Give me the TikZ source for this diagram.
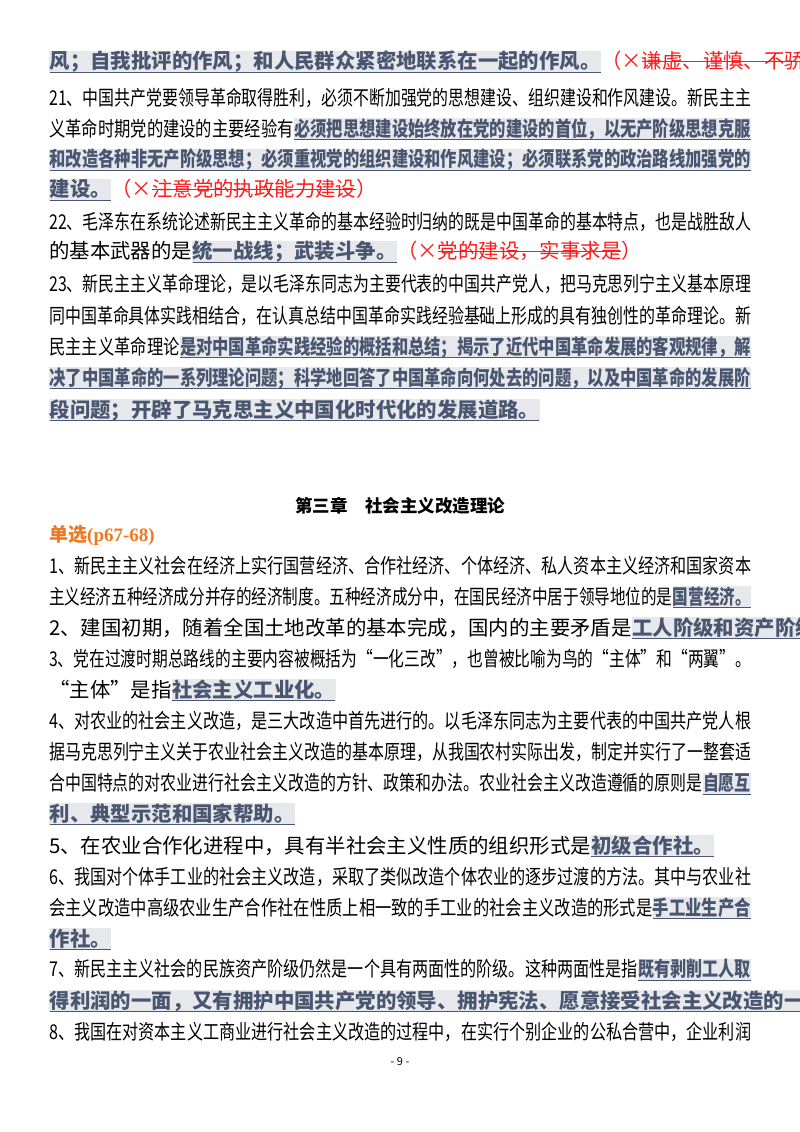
\documentclass[tikz,border=0pt]{standalone}
\usepackage{fontspec}
\usepackage{graphicx}
\setmainfont{Noto Sans CJK SC}
\newfontfamily\serifb{Liberation Serif}
\definecolor{ansfg}{HTML}{4A5570}
\definecolor{ansbg}{HTML}{E6E8EC}
\definecolor{wrong}{HTML}{FF1A1A}
\definecolor{orangeh}{HTML}{F07820}
\newsavebox\mybx
\newcommand\uln[1]{\sbox\mybx{#1}\rlap{\rule[-3.5pt]{\wd\mybx}{0.9pt}}\usebox\mybx}
\newcommand\stk[1]{\sbox\mybx{#1}\rlap{\rule[0.33em]{\wd\mybx}{0.9pt}}\usebox\mybx}
\newcommand\ans[1]{{\setlength\fboxsep{0.5pt}\colorbox{ansbg}{\color{ansfg}\bfseries\uln{#1}}}}
\newcommand\wrongans[1]{{\color{wrong}（×\stk{#1}）}}
\newcommand\jl[1]{\resizebox{702pt}{\height}{#1}}
\tikzset{ln/.style={anchor=west,inner sep=0pt,font=\fontsize{20.4pt}{22pt}\selectfont}}
\begin{document}
\begin{tikzpicture}[x=1pt,y=-1pt]
\useasboundingbox[fill=white] (0,0) rectangle (800,1132);
\node[ln] (l1) at (49,62) {\ans{风；自我批评的作风；和人民群众紧密地联系在一起的作风。}\wrongans{谦虚、谨慎、不骄、不躁的作风}};
\node[ln] (l2) at (49,98) {\jl{21、中国共产党要领导革命取得胜利，必须不断加强党的思想建设、组织建设和作风建设。新民主主}};
\node[ln] (l3) at (49,129) {\jl{义革命时期党的建设的主要经验有\ans{必须把思想建设始终放在党的建设的首位，以无产阶级思想克服}}};
\node[ln] (l4) at (49,160) {\jl{\ans{和改造各种非无产阶级思想；必须重视党的组织建设和作风建设；必须联系党的政治路线加强党的}}};
\node[ln] (l5) at (49,190) {\ans{建设。}\wrongans{注意党的执政能力建设}};
\node[ln] (l6) at (49,222) {\jl{22、毛泽东在系统论述新民主主义革命的基本经验时归纳的既是中国革命的基本特点，也是战胜敌人}};
\node[ln] (l7) at (49,252) {的基本武器的是\ans{统一战线；武装斗争。}\wrongans{党的建设，实事求是}};
\node[ln] (l8) at (49,284) {\jl{23、新民主主义革命理论，是以毛泽东同志为主要代表的中国共产党人，把马克思列宁主义基本原理}};
\node[ln] (l9) at (49,316) {\jl{同中国革命具体实践相结合，在认真总结中国革命实践经验基础上形成的具有独创性的革命理论。新}};
\node[ln] (l10) at (49,347) {\jl{民主主义革命理论\ans{是对中国革命实践经验的概括和总结；揭示了近代中国革命发展的客观规律，解}}};
\node[ln] (l11) at (49,378) {\jl{\ans{决了中国革命的一系列理论问题；科学地回答了中国革命向何处去的问题，以及中国革命的发展阶}}};
\node[ln] (l12) at (49,410) {\ans{段问题；开辟了马克思主义中国化时代化的发展道路。}};
\node[font=\fontsize{17.5pt}{20pt}\selectfont\bfseries,inner sep=0pt] (h) at (400,506) {第三章\hspace{1em}社会主义改造理论};
\node[ln,text=orangeh,font=\fontsize{19pt}{22pt}\selectfont\bfseries] (dx) at (49,535) {单选{\serifb\bfseries(p67-68)}};
\node[ln] (a1) at (49,566) {\jl{1、新民主主义社会在经济上实行国营经济、合作社经济、个体经济、私人资本主义经济和国家资本}};
\node[ln] (a2) at (49,597) {\jl{主义经济五种经济成分并存的经济制度。五种经济成分中，在国民经济中居于领导地位的是\ans{国营经济。}}};
\node[ln] (b1) at (49,628) {2、建国初期，随着全国土地改革的基本完成，国内的主要矛盾是\ans{工人阶级和资产阶级的矛盾。}};
\node[ln] (c1) at (49,659) {\jl{3、党在过渡时期总路线的主要内容被概括为“一化三改”，也曾被比喻为鸟的“主体”和“两翼”。}};
\node[ln] (c2) at (49,690) {“主体”是指\ans{社会主义工业化。}};
\node[ln] (d1) at (49,721) {\jl{4、对农业的社会主义改造，是三大改造中首先进行的。以毛泽东同志为主要代表的中国共产党人根}};
\node[ln] (d2) at (49,752) {\jl{据马克思列宁主义关于农业社会主义改造的基本原理，从我国农村实际出发，制定并实行了一整套适}};
\node[ln] (d3) at (49,784) {\jl{合中国特点的对农业进行社会主义改造的方针、政策和办法。农业社会主义改造遵循的原则是\ans{自愿互}}};
\node[ln] (d4) at (49,814) {\ans{利、典型示范和国家帮助。}};
\node[ln] (e1) at (49,846) {5、在农业合作化进程中，具有半社会主义性质的组织形式是\ans{初级合作社。}};
\node[ln] (f1) at (49,877) {\jl{6、我国对个体手工业的社会主义改造，采取了类似改造个体农业的逐步过渡的方法。其中与农业社}};
\node[ln] (f2) at (49,908) {\jl{会主义改造中高级农业生产合作社在性质上相一致的手工业的社会主义改造的形式是\ans{手工业生产合}}};
\node[ln] (f3) at (49,939) {\ans{作社。}};
\node[ln] (g1) at (49,970) {\jl{7、新民主主义社会的民族资产阶级仍然是一个具有两面性的阶级。这种两面性是指\ans{既有剥削工人取}}};
\node[ln] (g2) at (49,1001) {\ans{得利润的一面，又有拥护中国共产党的领导、拥护宪法、愿意接受社会主义改造的一面。}};
\node[ln] (k1) at (49,1032) {\jl{8、我国在对资本主义工商业进行社会主义改造的过程中，在实行个别企业的公私合营中，企业利润}};
\node[font=\fontsize{11pt}{12pt}\selectfont,inner sep=0pt] (pg) at (400,1062) {- 9 -};
\end{tikzpicture}
\end{document}
